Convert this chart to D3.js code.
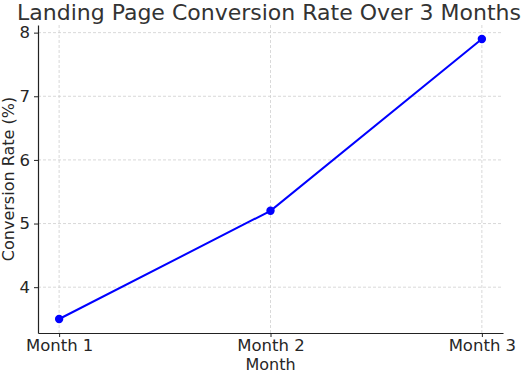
<!DOCTYPE html>
<html lang="en">
  <head>
    <meta charset="UTF-8">
    <title>Landing Page Conversion Rate</title>
    <style>
      body { margin: 0; background: #fff; }
      svg { display: block; font-family: 'DejaVu Sans', sans-serif; }
    </style>
  </head>
  <body>
    <div id="chart"></div>
    <script src="https://cdnjs.cloudflare.com/ajax/libs/d3/7.8.5/d3.min.js"></script>
    <script>
      const months = ['Month 1', 'Month 2', 'Month 3'];
      const rates = [3.5, 5.2, 7.9];
      const yTicks = [4, 5, 6, 7, 8];

      const width = 524, height = 373;
      const margin = { top: 25, right: 21, bottom: 40, left: 38 };
      const innerW = width - margin.left - margin.right;
      const innerH = height - margin.top - margin.bottom;

      const svg = d3.select('#chart').append('svg')
        .attr('width', width)
        .attr('height', height);

      // matplotlib-style 5% padding around the data
      const x = d3.scaleLinear().domain([-0.1, 2.1]).range([0, innerW]);
      const yMin = d3.min(rates), yMax = d3.max(rates);
      const pad = (yMax - yMin) * 0.05;
      const y = d3.scaleLinear().domain([yMin - pad, yMax + pad]).range([innerH, 0]);

      const g = svg.append('g').attr('transform', `translate(${margin.left},${margin.top})`);

      // grid
      g.append('g').selectAll('line').data(yTicks).join('line')
        .attr('x1', 0).attr('x2', innerW)
        .attr('y1', d => y(d)).attr('y2', d => y(d))
        .attr('stroke', '#cfcfcf').attr('stroke-width', 0.8).attr('stroke-dasharray', '3,2');
      g.append('g').selectAll('line').data(months).join('line')
        .attr('x1', (d, i) => x(i)).attr('x2', (d, i) => x(i))
        .attr('y1', 0).attr('y2', innerH)
        .attr('stroke', '#cfcfcf').attr('stroke-width', 0.8).attr('stroke-dasharray', '3,2');

      // axes
      const xAxis = d3.axisBottom(x).tickValues([0, 1, 2])
        .tickFormat(i => months[i]).tickSize(4).tickPadding(2).tickSizeOuter(0);
      const yAxis = d3.axisLeft(y).tickValues(yTicks).tickFormat(d3.format('d'))
        .tickSize(4).tickPadding(4).tickSizeOuter(0);

      const gx = g.append('g').attr('transform', `translate(0,${innerH})`).call(xAxis);
      const gy = g.append('g').call(yAxis);
      [gx, gy].forEach(a => {
        a.select('.domain').attr('stroke', '#222').attr('stroke-width', 1.2);
        a.selectAll('.tick line').attr('stroke', '#222').attr('stroke-width', 1);
        a.selectAll('.tick text').attr('fill', '#262626')
          .style('font-family', "'DejaVu Sans', sans-serif").style('font-size', '16.5px');
      });

      // line + markers
      const line = d3.line().x((d, i) => x(i)).y(d => y(d));
      g.append('path').datum(rates)
        .attr('d', line)
        .attr('fill', 'none')
        .attr('stroke', '#0000ff')
        .attr('stroke-width', 2);
      g.selectAll('circle.pt').data(rates).join('circle')
        .attr('class', 'pt')
        .attr('cx', (d, i) => x(i)).attr('cy', d => y(d))
        .attr('r', 4.2).attr('fill', '#0000ff');

      // labels
      svg.append('text')
        .attr('x', 269).attr('y', 20)
        .attr('text-anchor', 'middle')
        .attr('fill', '#333').style('font-size', '22px')
        .text('Landing Page Conversion Rate Over 3 Months');

      svg.append('text')
        .attr('x', margin.left + innerW / 2).attr('y', 370)
        .attr('text-anchor', 'middle')
        .attr('fill', '#262626').style('font-size', '16px')
        .text('Month');

      svg.append('text')
        .attr('transform', `translate(14,${margin.top + innerH / 2}) rotate(-90)`)
        .attr('text-anchor', 'middle')
        .attr('fill', '#262626').style('font-size', '16px')
        .text('Conversion Rate (%)');
    </script>
  </body>
</html>
